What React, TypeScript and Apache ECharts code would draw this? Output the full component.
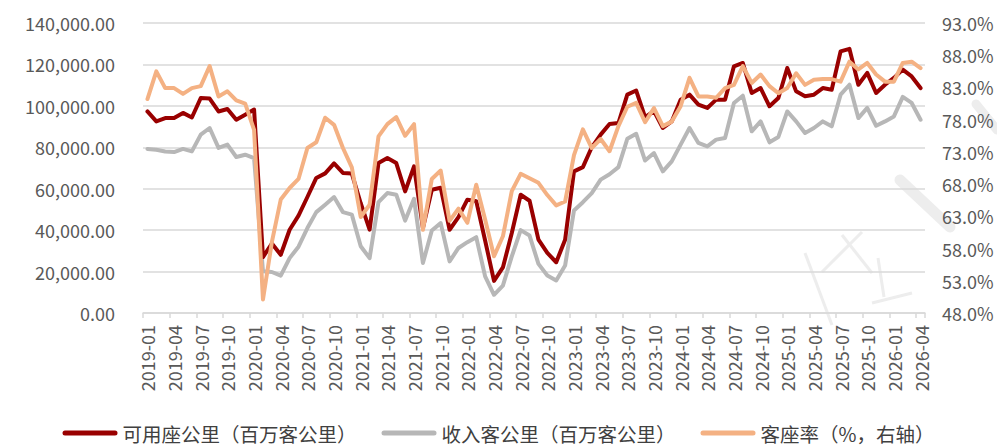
import React, { useEffect, useRef } from "react";
import * as echarts from "echarts";

// Month categories 2019-01 .. 2026-04
const categories: string[] = [];
for (let y = 2019; y <= 2026; y++) {
  for (let m = 1; m <= 12; m++) {
    if (y === 2026 && m > 4) break;
    categories.push(`${y}-${String(m).padStart(2, "0")}`);
  }
}

// 可用座公里（百万客公里）
const askData: number[] = [
  97300, 92500, 94100, 94100, 96600, 94400, 103800, 103500, 97300, 98500, 93300, 95700,
  98200, 27000, 33500, 28100, 40200, 47000, 56000, 65200, 67400, 72200, 67600, 67300,
  53000, 40200, 72400, 74800, 72400, 58700, 70800, 41000, 59500, 60500, 40200, 46300,
  54700, 54000, 35000, 15500, 22000, 38600, 57100, 54200, 35400, 29000, 24500, 35400,
  68400, 70400, 80000, 86100, 91200, 91700, 105400, 107400, 94500, 97500, 89300, 92500,
  103000, 105400, 100600, 99000, 103000, 103000, 119100, 120700, 106200, 108600, 99800, 103800,
  118300, 107000, 104600, 105400, 108600, 107800, 126300, 127500, 110200, 115900, 106200, 110200,
  113500, 117500, 114200, 108600,
];

// 收入客公里（百万客公里）
const rpkData: number[] = [
  79200, 78800, 78000, 77700, 79200, 78000, 86100, 89300, 79700, 81300, 75300, 76400,
  74800, 20100, 19800, 18000, 26500, 32000, 41000, 48700, 52300, 56000, 48700, 47500,
  32200, 26500, 53500, 57900, 57100, 44600, 55100, 24100, 39800, 43400, 24900, 31400,
  34200, 36600, 17700, 8800, 13200, 27300, 40000, 37400, 23700, 18100, 15700, 22900,
  49500, 53500, 57900, 64400, 67000, 70400, 84100, 86500, 73600, 77200, 68400, 73200,
  81300, 89300, 82100, 80400, 83700, 84500, 101400, 104900, 87700, 92500, 82400, 85000,
  97300, 92500, 86900, 89300, 92500, 90100, 105400, 110200, 94100, 99000, 90400, 92500,
  94900, 104300, 101400, 93300,
];

// 客座率（%，右轴）
const lfData: number[] = [
  81.2, 85.5, 82.9, 82.9, 82.0, 82.9, 83.2, 86.3, 81.6, 82.4, 81.0, 80.5,
  76.4, 50.1, 59.0, 65.6, 67.4, 68.8, 73.6, 74.5, 78.3, 77.2, 73.6, 70.6,
  62.9, 64.8, 75.4, 77.3, 78.4, 75.5, 77.3, 60.9, 68.8, 70.1, 62.3, 64.2,
  62.0, 67.9, 62.5, 56.8, 59.9, 66.9, 69.6, 68.9, 68.2, 66.3, 64.7, 65.3,
  72.5, 76.5, 73.6, 75.0, 73.1, 77.0, 80.0, 80.6, 77.6, 79.8, 77.0, 77.7,
  80.1, 84.5, 81.6, 81.6, 81.4, 82.9, 83.4, 86.3, 83.7, 85.0, 83.2, 82.1,
  82.9, 85.2, 83.4, 84.2, 84.3, 84.3, 83.9, 87.0, 85.8, 86.8, 85.0, 83.9,
  83.9, 86.8, 87.0, 86.0,
];

const seriesNames = ["可用座公里（百万客公里）", "收入客公里（百万客公里）", "客座率（%，右轴）"];
const leftMin = 0;
const leftMax = 140000;
const leftStep = 20000;
const rightMin = 48;
const rightMax = 93;
const rightStep = 5;

const FONT = "'Noto Sans CJK SC', 'Noto Sans', sans-serif";
const LABEL_COLOR = "#595959";
const GRID_COLOR = "#D9D9D9";
const RED = "#990000";
const GRAY = "#B7B7B7";
const ORANGE = "#F4B183";
const CAPSULE = "path://M2.5,0 L52.5,0 A2.5,2.5 0 0 1 52.5,5 L2.5,5 A2.5,2.5 0 0 1 2.5,0 Z";

function fmtThousands(v: number): string {
  const s = Math.round(v).toString().replace(/\B(?=(\d{3})+(?!\d))/g, ",");
  return s + ".00";
}

export default function App() {
  const ref = useRef<HTMLDivElement>(null);
  useEffect(() => {
    if (!ref.current) return;
    const chart = echarts.init(ref.current, undefined, { renderer: "svg" });
    const wm = "#EDEDED";
    const option: any = {
      animation: false,
      backgroundColor: "#FFFFFF",
      textStyle: { fontFamily: FONT },
      grid: { left: 143, right: 72, top: 23, bottom: 133, containLabel: false },
      legend: {
        top: 423,
        left: "center",
        padding: 0,
        itemWidth: 55,
        itemHeight: 5,
        itemGap: 25,
        textStyle: { fontSize: 19.5, lineHeight: 20, color: "#404040", fontFamily: FONT },
        data: [
          { name: seriesNames[0], icon: CAPSULE, itemStyle: { color: RED } },
          { name: seriesNames[1], icon: CAPSULE, itemStyle: { color: GRAY } },
          { name: seriesNames[2], icon: CAPSULE, itemStyle: { color: ORANGE } },
        ],
      },
      xAxis: {
        type: "category",
        data: categories,
        boundaryGap: true,
        axisLine: { show: true, lineStyle: { color: GRID_COLOR, width: 1.5 } },
        axisTick: { show: true, interval: 2, length: 5, lineStyle: { color: GRID_COLOR, width: 1.5 } },
        axisLabel: {
          interval: 2,
          rotate: 90,
          fontSize: 18,
          color: LABEL_COLOR,
          margin: 12,
          fontFamily: FONT,
        },
        splitLine: { show: false },
      },
      yAxis: [
        {
          type: "value",
          position: "left",
          min: leftMin,
          max: leftMax,
          interval: leftStep,
          axisLine: { show: false },
          axisTick: { show: false },
          axisLabel: {
            fontSize: 18,
            color: LABEL_COLOR,
            margin: 28,
            fontFamily: FONT,
            formatter: (v: number) => fmtThousands(v),
          },
          splitLine: { show: true, lineStyle: { color: GRID_COLOR, width: 1.5 } },
        },
        {
          type: "value",
          position: "right",
          min: 0,
          max: rightMax - rightMin,
          interval: rightStep,
          axisLine: { show: false },
          axisTick: { show: false },
          axisLabel: {
            fontSize: 18,
            color: LABEL_COLOR,
            margin: 17,
            fontFamily: FONT,
            formatter: (v: number) => (v + rightMin).toFixed(1) + "%",
          },
          splitLine: { show: false },
        },
      ],
      graphic: [
        { type: "line", shape: { x1: 900, y1: 180, x2: 950, y2: 227 }, style: { stroke: wm, lineWidth: 11, lineCap: "round" }, z: -1 },
        { type: "line", shape: { x1: 976, y1: 104, x2: 997, y2: 130 }, style: { stroke: wm, lineWidth: 9, lineCap: "round" }, z: -1 },
        { type: "line", shape: { x1: 805, y1: 253, x2: 832, y2: 325 }, style: { stroke: wm, lineWidth: 3 }, z: -1 },
        { type: "line", shape: { x1: 822, y1: 272, x2: 862, y2: 232 }, style: { stroke: wm, lineWidth: 3 }, z: -1 },
        { type: "line", shape: { x1: 842, y1: 235, x2: 872, y2: 273 }, style: { stroke: wm, lineWidth: 3 }, z: -1 },
        { type: "line", shape: { x1: 878, y1: 258, x2: 884, y2: 297 }, style: { stroke: wm, lineWidth: 3 }, z: -1 },
        { type: "line", shape: { x1: 872, y1: 303, x2: 912, y2: 293 }, style: { stroke: wm, lineWidth: 3 }, z: -1 },
      ],
      series: [
        {
          name: seriesNames[0],
          type: "line",
          yAxisIndex: 0,
          data: askData,
          symbol: "none",
          showSymbol: false,
          lineStyle: { color: RED, width: 4, cap: "round", join: "round" },
          itemStyle: { color: RED },
          z: 3,
        },
        {
          name: seriesNames[1],
          type: "line",
          yAxisIndex: 0,
          data: rpkData,
          symbol: "none",
          showSymbol: false,
          lineStyle: { color: GRAY, width: 4, cap: "round", join: "round" },
          itemStyle: { color: GRAY },
          z: 2,
        },
        {
          name: seriesNames[2],
          type: "line",
          yAxisIndex: 1,
          data: lfData.map((v) => +(v - rightMin).toFixed(2)),
          symbol: "none",
          showSymbol: false,
          lineStyle: { color: ORANGE, width: 4, cap: "round", join: "round" },
          itemStyle: { color: ORANGE },
          z: 4,
        },
      ],
    };
    chart.setOption(option);
    return () => chart.dispose();
  }, []);
  return (
    <div
      ref={ref}
      style={{ position: "fixed", left: 0, top: 0, width: 997, height: 446, background: "#fff" }}
    />
  );
}
